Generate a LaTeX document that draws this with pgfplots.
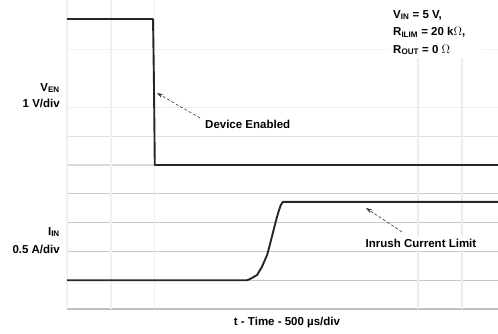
\documentclass[border=0pt]{standalone}
\usepackage{fontspec}
\setmainfont{Liberation Sans}
\usepackage{pgfplots}
\pgfplotsset{compat=1.18}
\usetikzlibrary{arrows.meta}
\begin{document}
\begin{tikzpicture}[x=1pt,y=1pt,font=\fontsize{11.5}{13}\selectfont\bfseries]
\useasboundingbox (0,0) rectangle (498,333);
\begin{axis}[at={(67pt,24pt)}, anchor=south west, width=431pt, height=309pt,
  scale only axis, xmin=0, xmax=9.82, ymin=0, ymax=10.73,
  axis lines=none, ticks=none, clip=false]
% horizontal grid
\draw[gray!50, line width=1.4pt] (axis cs:0,0) -- (axis cs:9.82,0);
\draw[gray!45, line width=1.2pt] (axis cs:0,1) -- (axis cs:9.82,1);
\draw[gray!45, line width=1.2pt] (axis cs:0,2) -- (axis cs:9.82,2);
\draw[gray!45, line width=1.2pt] (axis cs:0,3) -- (axis cs:9.82,3);
\draw[gray!40, line width=1.2pt] (axis cs:0,4) -- (axis cs:9.82,4);
\draw[gray!30, line width=1.2pt] (axis cs:0,5) -- (axis cs:9.82,5);
\draw[gray!25, line width=1.2pt] (axis cs:0,6) -- (axis cs:9.82,6);
\draw[gray!14, line width=1.2pt] (axis cs:0,7) -- (axis cs:9.82,7);
\draw[gray!10, line width=1.2pt] (axis cs:0,9) -- (axis cs:9.82,9);
% vertical grid
\draw[gray!12, line width=1.4pt] (axis cs:0,0) -- (axis cs:0,10.73);
\draw[gray!12, line width=1.4pt] (axis cs:1,0) -- (axis cs:1,10.73);
\draw[gray!12, line width=1.4pt] (axis cs:2,0) -- (axis cs:2,10.73);
\draw[gray!15, line width=1.4pt] (axis cs:8,0) -- (axis cs:8,10.73);
\draw[gray!15, line width=1.4pt] (axis cs:9,0) -- (axis cs:9,10.73);
% V_EN trace
\addplot[black!85, line width=1.9pt, line join=round] coordinates {
(0,10.07) (0.5,10.07) (1.0,10.07) (1.5,10.07) (1.96,10.07) (1.98,8.0) (2.0,5.0) (5.0,5.0) (9.82,5.0)};
% I_IN trace
\addplot[black!85, line width=1.9pt, line join=round] coordinates {
(0,1.0) (2.0,1.0) (4.10,1.0) (4.17,1.04) (4.33,1.18) (4.44,1.46) (4.56,1.88) (4.62,2.22)
(4.69,2.64) (4.76,3.06) (4.81,3.33) (4.87,3.61) (4.92,3.72) (7.0,3.72) (9.82,3.72)};
\end{axis}
% white boxes
\fill[white] (388,275) rectangle (482,333);
\node[fill=white, inner xsep=8pt, inner ysep=3pt] at (421,90) {Inrush Current Limit};
% labels
\node[anchor=east, inner sep=0pt] at (60,245) {V\textsubscript{EN}};
\node[anchor=east, inner sep=0pt] at (60,230) {1 V/div};
\node[anchor=east, inner sep=0pt] at (60,101) {I\textsubscript{IN}};
\node[anchor=east, inner sep=0pt] at (60,84) {0.5 A/div};
\node[anchor=west, inner sep=0pt] at (205,209) {Device Enabled};
\node[anchor=west, inner sep=0pt] at (393,318) {V\textsubscript{IN} = 5 V,};
\node[anchor=west, inner sep=0pt] at (393,301) {R\textsubscript{ILIM} = 20 k$\Omega$,};
\node[anchor=west, inner sep=0pt] at (393,283) {R\textsubscript{OUT} = 0 $\Omega$};
\node[inner sep=0pt] at (287,10) {t - Time - 500 µs/div};
% arrows
\draw[black!80, densely dashed, line width=0.6pt, -{Stealth[length=6pt,width=4pt]}] (200,215) -- (157,240);
\draw[black!80, densely dashed, line width=0.6pt, -{Stealth[length=6pt,width=4pt]}] (402,101) -- (366,125);
\end{tikzpicture}
\end{document}
